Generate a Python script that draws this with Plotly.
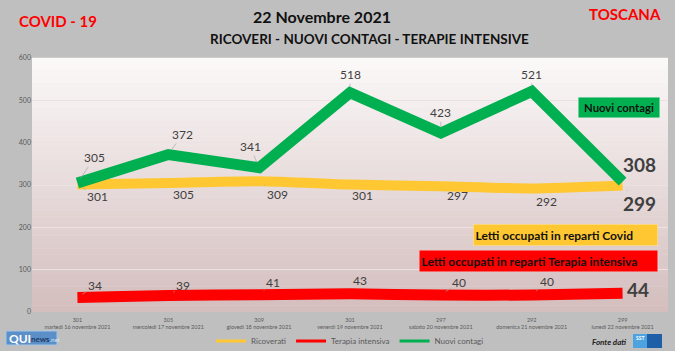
import plotly.graph_objects as go

# ---------------- data ----------------
dates = ["martedì 16 novembre 2021", "mercoledì 17 novembre 2021", "giovedì 18 novembre 2021",
         "venerdì 19 novembre 2021", "sabato 20 novembre 2021", "domenica 21 novembre 2021",
         "lunedì 22 novembre 2021"]
ricoverati = [301, 305, 309, 301, 297, 292, 299]
terapia = [34, 39, 41, 43, 40, 40, 44]
contagi = [305, 372, 341, 518, 423, 521, 308]
y_ticks = [0, 100, 200, 300, 400, 500, 600]

x_idx = list(range(len(dates)))
tick_text = [f"{r}<br>{d}" for r, d in zip(ricoverati, dates)]

# ---------------- styles ----------------
W, H = 675, 351
L, R, T, B = 32, 7, 58, 39
PW, PH = W - L - R, H - T - B
GREEN, YELLOW, RED = "#00b050", "#ffc832", "#ff0000"
LBL = "#404040"
FONT = "Lato"

def px(xp):
    return (xp - L) / PW

def py(yp):
    return (H - B - yp) / PH

fig = go.Figure()

fig.add_trace(go.Scatter(x=x_idx, y=ricoverati, mode="lines", line=dict(color=YELLOW, width=10, shape="spline", smoothing=0.6),
                         showlegend=False, hoverinfo="skip"))
fig.add_trace(go.Scatter(x=x_idx, y=terapia, mode="lines", line=dict(color=RED, width=11, shape="spline", smoothing=0.6),
                         showlegend=False, hoverinfo="skip"))
fig.add_trace(go.Scatter(x=x_idx, y=contagi, mode="lines", line=dict(color=GREEN, width=11),
                         showlegend=False, hoverinfo="skip"))

# legend entries
for name, col in [("Ricoverati", YELLOW), ("Terapia intensiva", RED), ("Nuovi contagi", GREEN)]:
    fig.add_trace(go.Scatter(x=[None], y=[None], mode="lines", name=name, line=dict(color=col, width=3)))

# gradient plot background
n = 40
top_c, bot_c = (251, 249, 249), (212, 189, 189)
for i in range(n):
    f = (i + 0.5) / n
    c = tuple(int(round(top_c[k] + (bot_c[k] - top_c[k]) * f)) for k in range(3))
    fig.add_shape(type="rect", xref="paper", yref="paper", x0=0, x1=1,
                  y0=1 - (i + 1) / n, y1=1 - i / n + 0.001,
                  fillcolor=f"rgb{c}", line_width=0, layer="below")

# data labels
g_off = [(17, 25), (14, 20), (-9, 21), (0, 18), (0, 20), (0, 17), (17, 17)]
y_off = [(20, -12), (15, -12), (18, -13), (12, -11), (17, -9), (15, -13), (17, -18)]
r_off = [(18, 12), (15, 10), (14, 12), (10, 13), (18, 13), (15, 14), (15, 4)]

def add_labels(vals, offs):
    last = len(vals) - 1
    for i, (v, (dx, dy)) in enumerate(zip(vals, offs)):
        big = i == last
        fig.add_annotation(x=i, y=v, xref="x", yref="y",
                           text=f"<b>{v}</b>" if big else str(v),
                           showarrow=True, ax=dx, ay=-dy, axref="pixel", ayref="pixel",
                           arrowhead=0, arrowwidth=0.7, arrowcolor="#a6a6a6", standoff=6,
                           font=dict(family=FONT, size=19 if big else 12, color=LBL))

add_labels(contagi, g_off)
add_labels(ricoverati, y_off)
add_labels(terapia, r_off)

# colored boxes
def box(text, x0, x1, y0, y1, bg, align, size):
    fig.add_annotation(xref="paper", yref="paper", x=px((x0 + x1) / 2), y=py((y0 + y1) / 2),
                       xanchor="center", yanchor="middle", showarrow=False,
                       text=f"<b>{text}</b>", align=align, width=(x1 - x0) - 8, height=(y1 - y0) - 4,
                       borderpad=2, bgcolor=bg, bordercolor="rgba(255,255,255,0.5)", borderwidth=0.5,
                       valign="middle", font=dict(family=FONT, size=size, color="#111111"))

box("Nuovi contagi", 576, 661, 97, 117, GREEN, "center", 11.3)
box("Letti occupati in reparti Covid", 471, 659, 224, 245, YELLOW, "left", 12)
box("Letti occupati in reparti Terapia intensiva", 417, 659, 250, 271, RED, "left", 12)

# header texts
def txt(text, x, y, size, color, anchor="center"):
    fig.add_annotation(xref="paper", yref="paper", x=px(x), y=py(y), xanchor=anchor, yanchor="middle",
                       showarrow=False, text=text, font=dict(family=FONT, size=size, color=color))

txt("<b>COVID - 19</b>", 17, 21, 15, "#ff0000", "left")
txt("<b>22 Novembre 2021</b>", 322, 16, 16, "#111111")
txt("<b>RICOVERI - NUOVI CONTAGI - TERAPIE INTENSIVE</b>", 369, 39, 13.5, "#111111")
txt("<b>TOSCANA</b>", 663, 14, 15, "#ff0000", "right")

# bottom left logo
fig.add_shape(type="rect", xref="paper", yref="paper", x0=px(6), x1=px(57), y0=py(345), y1=py(331),
              fillcolor="#5b8fc8", line=dict(color="#a9c6e6", width=1))
txt("<b>QUI</b>", 7, 338, 12, "white", "left")
txt("<b>news</b><span style='font-size:6px;color:#dce6f2'>.net</span>", 29, 339, 8, "#1f3864", "left")

# bottom right source
txt("<b><i>Fonte dati</i></b>", 628, 342, 8, "#222222", "right")
fig.add_shape(type="rect", xref="paper", yref="paper", x0=px(633), x1=px(647), y0=py(348), y1=py(334),
              fillcolor="#4da3e0", line_width=0)
fig.add_shape(type="rect", xref="paper", yref="paper", x0=px(647), x1=px(662), y0=py(348), y1=py(334),
              fillcolor="#1f5fa8", line_width=0)
txt("<b>SST</b>", 640, 338, 5, "white")

fig.update_layout(
    width=W, height=H, margin=dict(l=L, r=R, t=T, b=B, autoexpand=False),
    paper_bgcolor="#bfbfbf", plot_bgcolor="#f0e6e6",
    font=dict(family=FONT, color="#595959"),
    showlegend=True,
    legend=dict(orientation="h", x=0.5, xanchor="center", y=py(341), yanchor="middle",
                font=dict(size=8, color="#595959"), bgcolor="rgba(0,0,0,0)", itemwidth=30,
                tracegroupgap=0),
    xaxis=dict(range=[-0.5, 6.5], tickmode="array", tickvals=x_idx, ticktext=tick_text,
               tickfont=dict(size=5.5, color="#595959"), showgrid=False, zeroline=False,
               showline=False, ticks="", ticklabelstandoff=3, fixedrange=True),
    yaxis=dict(range=[0, 600], tickmode="array", tickvals=y_ticks, ticktext=[str(v) for v in y_ticks],
               tickfont=dict(size=7, color="#595959"), showgrid=True, gridcolor="#ece2e2", gridwidth=1,
               zeroline=False, showline=False, ticks="", fixedrange=True),
)

fig.write_html("out.html")
